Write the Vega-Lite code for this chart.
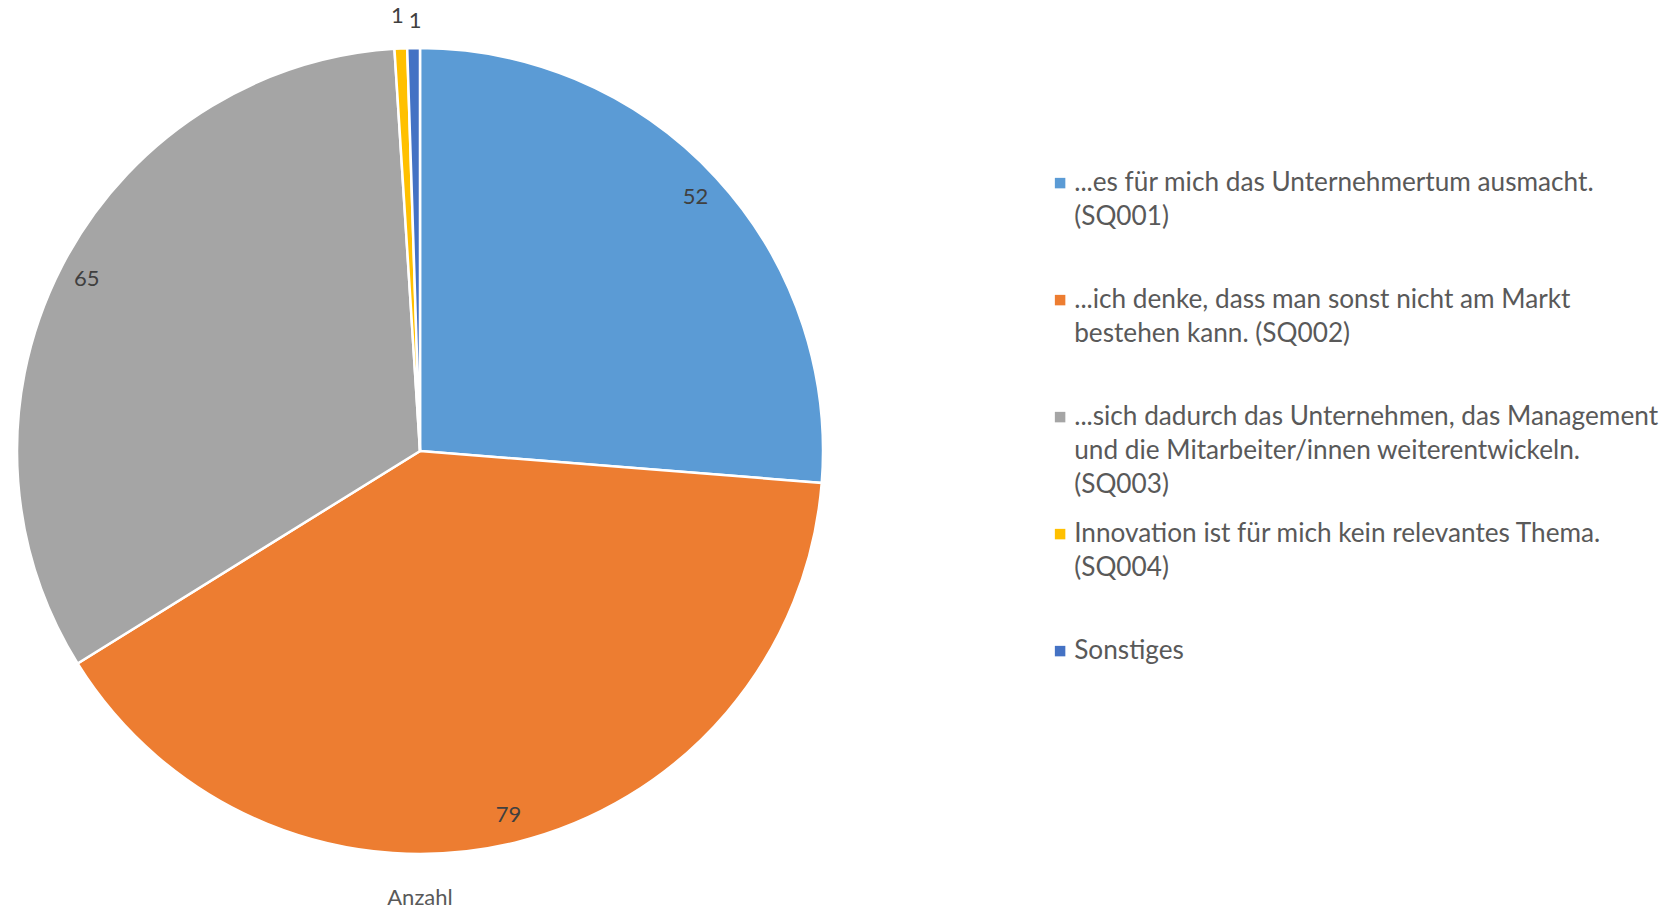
{
  "$schema": "https://vega.github.io/schema/vega-lite/v6.json",
  "width": 840,
  "height": 902,
  "padding": 0,
  "background": "white",
  "title": {"text": "Anzahl", "orient": "bottom", "offset": -14, "font": "Lato", "fontSize": 22, "fontWeight": "normal", "color": "#595959"},
  "data": {
    "values": [
      {"cat": "...es für mich das Unternehmertum ausmacht.|(SQ001)", "value": 52},
      {"cat": "...ich denke, dass man sonst nicht am Markt|bestehen kann. (SQ002)", "value": 79},
      {"cat": "...sich dadurch das Unternehmen, das Management|und die Mitarbeiter/innen weiterentwickeln.|(SQ003)", "value": 65},
      {"cat": "Innovation ist für mich kein relevantes Thema.|(SQ004)", "value": 1},
      {"cat": "Sonstiges", "value": 1}
    ]
  },
  "encoding": {
    "theta": {"field": "value", "type": "quantitative", "stack": true},
    "order": {"field": "cat", "type": "nominal", "sort": "ascending"}
  },
  "layer": [
    {
      "mark": {"type": "arc", "outerRadius": 403, "stroke": "white", "strokeWidth": 2.5},
      "encoding": {
        "color": {
          "field": "cat",
          "type": "nominal",
          "sort": null,
          "scale": {"range": ["#5B9BD5", "#ED7D31", "#A5A5A5", "#FFC000", "#4472C4"]},
          "legend": {
            "title": null,
            "orient": "none",
            "legendX": 1047,
            "legendY": 170,
            "padding": 0,
            "symbolType": "square",
            "symbolSize": 110,
            "symbolStrokeWidth": 0,
            "labelFont": "Lato",
            "labelFontSize": 26.2,
            "labelColor": "#595959",
            "labelLimit": 900,
            "labelOffset": 1,
            "rowPadding": 22,
            "labelExpr": "slice(split(datum.label + '||', '|'), 0, 3)"
          }
        }
      }
    },
    {
      "mark": {"type": "text", "radius": 375, "font": "Lato", "fontSize": 22, "color": "#404040"},
      "encoding": {
        "detail": {"field": "cat", "type": "nominal"},
        "text": {"condition": {"test": "datum.value > 1", "field": "value", "type": "quantitative"}, "value": ""}
      }
    },
    {
      "mark": {"type": "text", "radius": 435, "dx": -2, "font": "Lato", "fontSize": 22, "color": "#404040"},
      "encoding": {
        "detail": {"field": "cat", "type": "nominal"},
        "text": {"condition": {"test": "datum.value <= 1 && datum.cat != 'Sonstiges'", "field": "value", "type": "quantitative"}, "value": ""}
      }
    },
    {
      "mark": {"type": "text", "radius": 430, "dx": 2, "font": "Lato", "fontSize": 22, "color": "#404040"},
      "encoding": {
        "detail": {"field": "cat", "type": "nominal"},
        "text": {"condition": {"test": "datum.cat == 'Sonstiges'", "field": "value", "type": "quantitative"}, "value": ""}
      }
    }
  ],
  "config": {
    "view": {"stroke": null},
    "style": {"guide-label": {"lineHeight": 34.2}}
  }
}
